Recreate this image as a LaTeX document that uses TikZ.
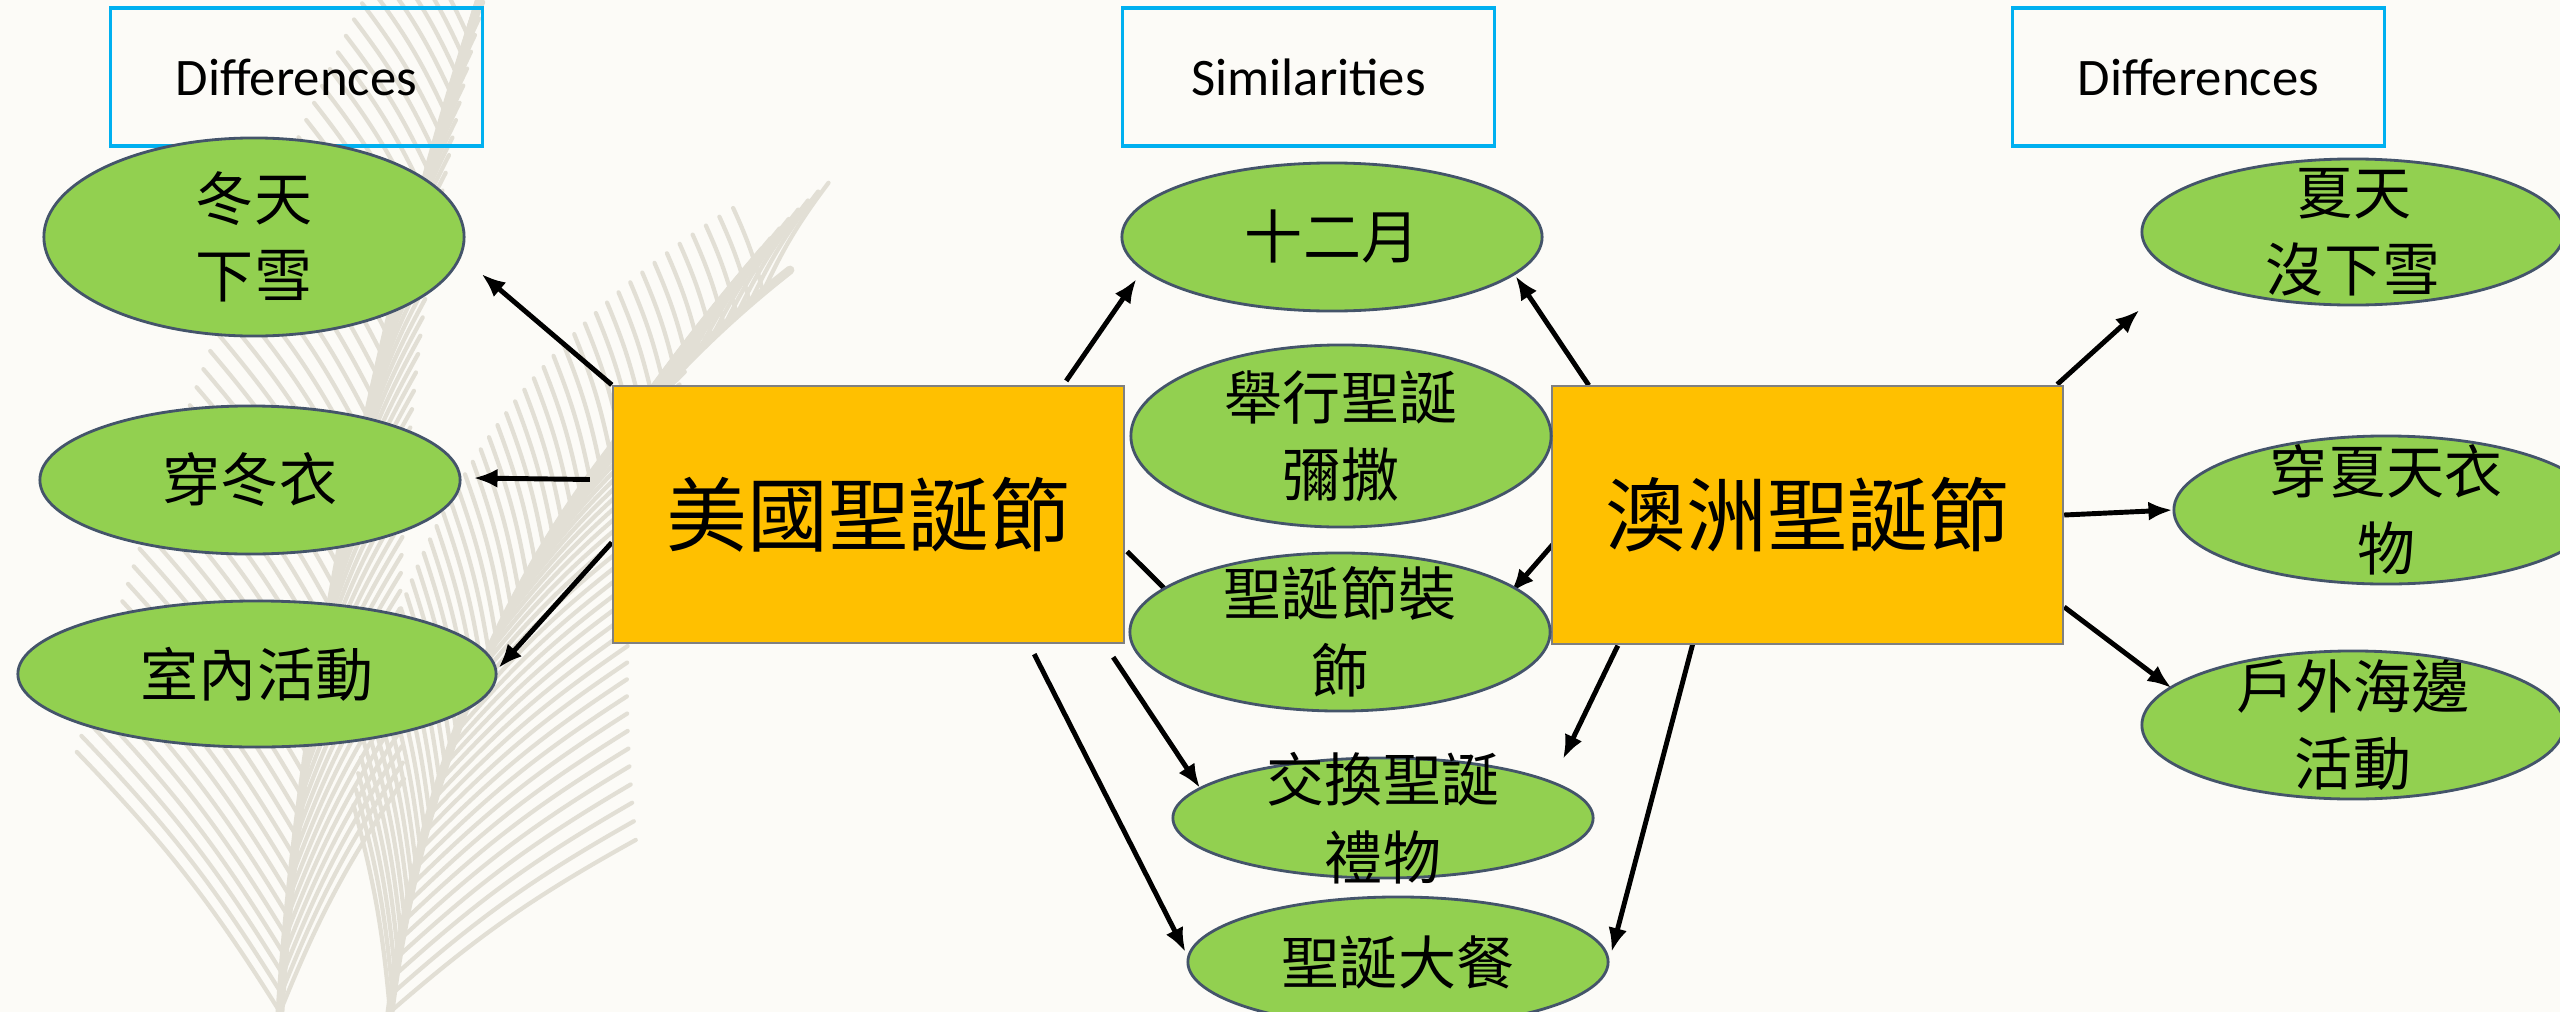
\documentclass[tikz,border=0pt]{standalone}
\usepackage{fontspec}
\setmainfont{Carlito}
\newfontfamily\cjk{Noto Sans CJK TC}
\usepackage{tikz}
\usetikzlibrary{backgrounds}
\usetikzlibrary{calc}
\usetikzlibrary{arrows.meta}
\usetikzlibrary{shapes.geometric}
\definecolor{hgrund}{HTML}{FCFBF7}
\definecolor{farn}{HTML}{E2DFD5}
\definecolor{gruen}{HTML}{92D050}
\definecolor{gelb}{HTML}{FFC000}
\definecolor{blau}{HTML}{00B0F0}
\definecolor{rand}{HTML}{44546A}
\tikzset{
  Oval/.style={ellipse, draw=rand, line width=0.8pt, fill=gruen, inner sep=0pt,
    minimum width=4.2cm, minimum height=#1}, % für Ellipsen
  Text/.style={align=center, font=\cjk\fontsize{16.5}{22}\selectfont}, % Ellipsentext
  Kasten/.style={rectangle, draw=gray, line width=0.6pt, fill=gelb,
    minimum width=5.11cm, minimum height=2.57cm,
    font=\cjk\fontsize{23}{28}\selectfont}, % für Hauptkästen
  Titel/.style={rectangle, draw=blau, line width=0.9pt,
    minimum width=3.71cm, minimum height=1.38cm,
    font=\fontsize{15}{18}\selectfont}, % für Überschriften
  Pfeil/.style={line width=1.4pt, ->}, % für Pfeile
  Farn/.style={draw=farn, line width=1.2pt, line cap=round} % für Farnblätter
}

\begin{document}
\begin{tikzpicture}[x=0.01cm, y=-0.01cm,
>={Latex[length=0.24cm,width=0.19cm]} % Voreinstellung für Pfeilspitzen
]
\useasboundingbox (0,0) rectangle (2560,1012);

%Überschriften
\node[Titel] (T1) at (296.5,77) {Differences};
\node[Titel] (T2) at (1308.5,77) {Similarities};
\node[Titel] (T3) at (2198.5,77) {Differences};

%Hauptkästen
\node[Kasten] (USA) at (868.5,514.5) {美國聖誕節};
\node[Kasten] (AUS) at (1807.5,515) {澳洲聖誕節};

%Ellipsen links
\node[Oval=1.98cm, label={[Text]center:冬天\\下雪}] (Winter) at (254,237) {};
\node[Oval=1.48cm, label={[Text]center:穿冬衣}] (Mantel) at (250,480) {};
\node[Oval=1.46cm, minimum width=4.78cm, label={[Text]center:室內活動}] (Innen) at (257,674) {};

%Ellipsen Mitte
\node[Oval=1.48cm, label={[Text]center:十二月}] (Dez) at (1332,237) {};
\node[Oval=1.82cm, label={[Text]center:舉行聖誕\\彌撒}] (Messe) at (1341,436) {};
\node[Oval=1.58cm, label={[Text]center:聖誕節裝\\飾}] (Deko) at (1340,632) {};
\node[Oval=1.20cm, label={[Text]center:交換聖誕\\禮物}] (Gesch) at (1383,818) {};
\node[Oval=1.30cm, label={[Text]center:聖誕大餐}] (Essen) at (1398,962) {};

%Ellipsen rechts
\node[Oval=1.46cm, minimum width=4.22cm, label={[Text]center:夏天\\沒下雪}] (Sommer) at (2353,232) {};
\node[Oval=1.48cm, minimum width=4.24cm, label={[Text]center:穿夏天衣\\物}] (Kleid) at (2386,510) {};
\node[Oval=1.48cm, minimum width=4.22cm, label={[Text]center:戶外海邊\\活動}] (Strand) at (2353,725) {};

\coordinate (Frei) at (1563,759);

\begin{pgfonlayer}{background}
\fill[hgrund] (0,0) rectangle (2560,1012);

%Farn
\coordinate (F1a) at (280,1012);
\coordinate (F1c) at (300,700);
\coordinate (F1d) at (380,300);
\coordinate (F1b) at (480,0);
\foreach \t in {0.00,0.02,...,0.98}{
  \pgfmathsetmacro{\L}{330-210*\t}
  \pgfmathsetmacro{\a}{128-8*\t}
  \pgfmathsetmacro{\b}{62+10*\t}
  \path (F1a) .. controls (F1c) and (F1d) .. (F1b) coordinate[pos=\t] (P);
  \draw[Farn] (P) to[bend right=6] ++({\L*cos(\a)},{-\L*sin(\a)});
  \draw[Farn] (P) to[bend left=6] ++({0.8*\L*cos(\b)},{-0.8*\L*sin(\b)});
}
\draw[Farn, line width=2.5pt] (F1a) .. controls (F1c) and (F1d) .. (F1b);
\coordinate (F2a) at (390,1012);
\coordinate (F2c) at (430,700);
\coordinate (F2d) at (560,450);
\coordinate (F2b) at (790,270);
\foreach \t in {0.00,0.02,...,0.98}{
  \pgfmathsetmacro{\L}{300-180*\t}
  \pgfmathsetmacro{\a}{35+25*\t}
  \pgfmathsetmacro{\b}{100+10*\t}
  \path (F2a) .. controls (F2c) and (F2d) .. (F2b) coordinate[pos=\t] (P);
  \draw[Farn] (P) to[bend left=6] ++({\L*cos(\a)},{-\L*sin(\a)});
  \draw[Farn] (P) to[bend right=5] ++({0.7*\L*cos(\b)},{-0.7*\L*sin(\b)});
}
\draw[Farn, line width=2.5pt] (F2a) .. controls (F2c) and (F2d) .. (F2b);

%Pfeile links
\draw[Pfeil] (USA.north west) -- ([shift={(16,37)}]Winter.east);
\draw[Pfeil] ([shift={(-22,-35)}]USA.west) -- ([shift={(12,-2)}]Mantel.east);
\draw[Pfeil] ([shift={(0,28)}]USA.west) -- ([shift={(1,-6)}]Innen.east);

%Pfeile Mitte
\draw[Pfeil] ([shift={(-59,-4)}]USA.north east) -- ([shift={(16,42)}]Dez.west);
\draw[Pfeil] ([shift={(2,37)}]USA.east) -- ([shift={(-150,-18)}]Deko.center);
\draw[Pfeil] ([shift={(-12,13)}]USA.south east) -- ([shift={(-183,-30)}]Gesch.center);
\draw[Pfeil] ([shift={(-91,10)}]USA.south east) -- ([shift={(-1,-10)}]Essen.west);
\draw[Pfeil] ([shift={(38,0)}]AUS.north west) -- ([shift={(-28,39)}]Dez.east);
\draw[Pfeil] ([shift={(5,26)}]AUS.west) -- ([shift={(-41,-39)}]Deko.east);
\draw[Pfeil] ([shift={(67,1)}]AUS.south west) -- (Frei);
\draw[Pfeil] ([shift={(142,-1)}]AUS.south west) -- ([shift={(2,-10)}]Essen.east);

%Pfeile rechts
\draw[Pfeil] ([shift={(-7,-1)}]AUS.north east) -- ([shift={(-1,78)}]Sommer.west);
\draw[Pfeil] (AUS.east) -- (Kleid.west);
\draw[Pfeil] ([shift={(0,92)}]AUS.east) -- ([shift={(31,-37)}]Strand.west);
\end{pgfonlayer}

\end{tikzpicture}
\end{document}
